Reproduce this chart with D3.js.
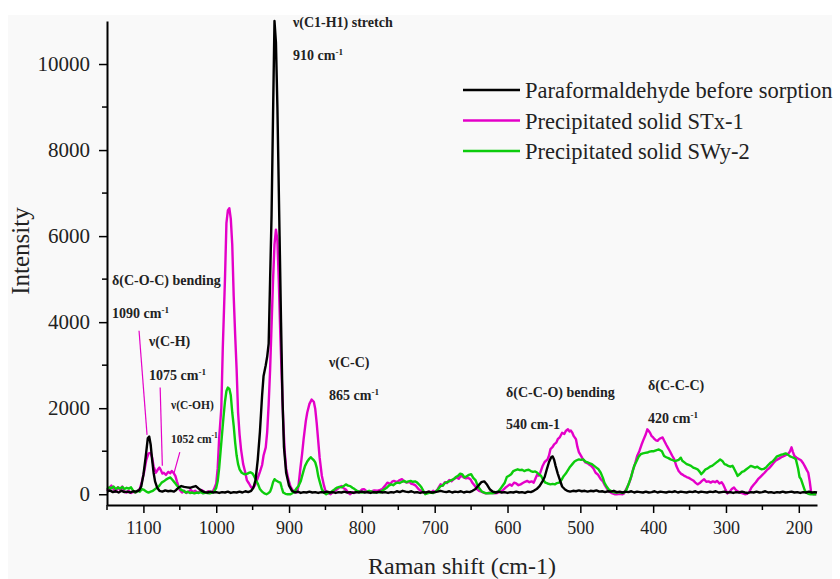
<!DOCTYPE html>
<html>
<head>
<meta charset="utf-8">
<script src="https://cdn.jsdelivr.net/npm/d3@7"></script>
<style>
  body { margin: 0; background: #ffffff; }
  text { font-family: "Liberation Serif", "DejaVu Serif", serif; }
</style>
</head>
<body>
<div class="canvas"></div>
<script>
// Raman shift (cm-1) / intensity pairs
const paraformaldehyde = [
  [1150,60],[1146,90],[1142,50],[1138,70],[1134,40],[1130,80],[1126,50],[1122,60],[1118,40],[1114,70],[1110,60],[1106,90],
  [1103,180],[1100,450],[1097,850],[1094,1300],[1092,1340],[1090,1150],[1088,800],[1086,500],[1084,300],[1081,150],[1078,80],
  [1074,60],[1070,90],[1066,70],[1062,80],[1058,60],[1055,100],[1052,150],[1048,190],[1044,170],[1040,160],[1036,150],[1032,170],
  [1028,190],[1024,130],[1020,80],[1016,50],[1012,40],[1008,60],[1004,40],[1000,50],[996,30],[992,50],[988,40],[984,60],[980,30],
  [976,50],[972,40],[968,60],[964,40],[960,70],[956,50],[952,80],[949,150],[946,330],[943,800],[940,1450],[937,2300],[935,2750],
  [932,3000],[930,3200],[928,3500],[926,5000],[924,6500],[922,8800],[920,11000],[918,10500],[916,9000],[913,6000],[911,4000],
  [909,2200],[907,1100],[904,500],[900,200],[896,80],[892,40],[888,60],[884,30],[880,50],[876,40],[872,60],[868,40],[864,50],
  [860,30],[856,50],[852,40],[848,60],[844,40],[840,50],[836,30],[832,50],[828,40],[824,60],[820,40],[816,50],[812,30],[808,50],
  [804,40],[800,60],[796,40],[792,50],[788,30],[784,50],[780,40],[776,60],[772,40],[768,50],[764,30],[760,50],[756,40],[752,70],
  [748,50],[744,80],[740,60],[736,50],[732,70],[728,40],[724,50],[720,30],[716,50],[712,40],[708,60],[704,40],[700,50],[696,60],
  [692,80],[688,60],[684,50],[680,70],[676,40],[672,60],[668,50],[664,70],[660,40],[656,60],[652,50],[648,80],[644,120],[640,200],
  [636,280],[632,300],[628,220],[624,110],[620,60],[616,40],[612,60],[608,40],[604,50],[600,30],[596,50],[592,40],[588,60],[584,40],
  [580,50],[576,30],[572,60],[568,50],[564,80],[560,120],[556,190],[552,300],[549,400],[546,580],[543,750],[540,860],[538,880],
  [536,800],[534,660],[531,480],[528,330],[525,180],[521,110],[518,80],[514,60],[510,80],[506,70],[502,90],[498,70],[494,80],
  [490,60],[486,80],[482,70],[478,90],[474,60],[470,70],[466,50],[462,70],[458,60],[454,80],[450,50],[446,60],[442,40],[438,60],
  [434,50],[430,70],[426,40],[422,60],[418,50],[414,40],[410,60],[406,40],[402,50],[398,70],[394,40],[390,60],[386,50],[382,40],
  [378,60],[374,50],[370,70],[366,40],[362,60],[358,50],[354,40],[350,60],[346,50],[342,70],[338,40],[334,60],[330,50],[326,40],
  [322,60],[318,50],[314,70],[310,40],[306,50],[302,60],[298,40],[294,50],[290,30],[286,50],[282,40],[278,60],[274,40],[270,30],
  [266,50],[262,40],[258,60],[254,40],[250,50],[246,70],[242,40],[238,50],[234,30],[230,50],[226,40],[222,60],[218,40],[214,50],
  [210,60],[206,40],[202,50],[198,30],[194,50],[190,40],[186,60],[182,40],[178,50],[175,40]
];

const solidSTx1 = [
  [1150,80],[1147,150],[1144,200],[1141,120],[1138,60],[1135,160],[1132,100],[1129,180],[1126,60],[1123,40],[1120,80],[1117,30],
  [1114,60],[1111,40],[1108,80],[1105,120],[1102,300],[1099,520],[1096,800],[1093,950],[1090,960],[1088,850],[1086,650],[1083,500],
  [1080,580],[1078,620],[1076,560],[1074,480],[1072,500],[1069,450],[1066,520],[1063,490],[1061,540],[1058,480],[1056,420],[1054,300],
  [1052,190],[1050,100],[1047,40],[1044,80],[1041,30],[1038,60],[1035,100],[1032,50],[1029,80],[1026,40],[1023,60],[1020,100],
  [1017,60],[1014,40],[1011,70],[1008,40],[1005,60],[1003,120],[1000,250],[998,600],[996,1300],[993,2000],[991,3400],[988,5000],
  [986,6300],[984,6600],[982,6650],[980,6400],[978,5800],[976,4600],[974,3700],[972,2900],[970,1900],[968,1400],[966,1050],[963,700],
  [960,500],[958,330],[955,250],[952,160],[950,150],[947,200],[944,330],[940,520],[937,680],[935,900],[932,1090],[930,1450],
  [928,2090],[926,2900],[925,3420],[922,4960],[920,5800],[918,6150],[916,5900],[914,4900],[912,3700],[910,2700],[908,1700],
  [906,1000],[904,600],[901,350],[898,180],[895,90],[892,60],[889,40],[887,200],[884.6,580],[882,950],[880,1280],[877,1700],
  [875,1900],[872,2100],[869,2200],[866,2150],[864,1980],[862,1650],[860,1250],[858,850],[855,430],[852,200],[850,80],[847,30],
  [843,0],[840,50],[837,80],[834,116],[831,160],[828,190],[825,140],[822,110],[819,40],[816,0],[813,50],[810,30],[807,80],[803,60],
  [800,110],[797,120],[793,60],[790,40],[786,70],[783,90],[779,80],[775,100],[772,120],[768,200],[765,270],[761,240],[758,300],
  [756,310],[752,280],[748,330],[745,350],[742,300],[738,270],[735,290],[732,240],[729,230],[726,200],[722,116],[718,70],[715,40],
  [712,30],[708,60],[705,40],[702,80],[699,50],[696,120],[692,230],[689,200],[686,280],[683,260],[680,330],[677,300],[674,350],
  [670,390],[667,360],[664,430],[661,400],[657,370],[654,380],[651,350],[648,260],[645,200],[642,120],[639,80],[636,60],[633,40],
  [630,20],[626,30],[622,40],[618,20],[614,30],[610,60],[606,100],[603,150],[600,190],[597,230],[594,200],[591,270],[588,250],
  [585,210],[582,230],[579,260],[576,290],[573,310],[570,280],[567,300],[564,270],[561,390],[559,465],[557,430],[555,500],[552,650],
  [549,750],[545,810],[543,900],[541,1050],[538,1100],[536,1160],[533,1200],[531,1280],[528,1330],[525,1430],[522,1400],[520,1470],
  [517,1510],[515,1460],[513,1480],[511,1430],[509,1350],[506,1280],[504,1100],[502,980],[499,890],[496,800],[493,740],[490,720],
  [487,680],[485,660],[482,600],[479,500],[476,460],[472,350],[469,300],[466,200],[463,116],[460,60],[456,20],[453,0],[450,0],
  [446,10],[442,0],[440,20],[437,120],[434,220],[431,350],[428,550],[425,700],[422,890],[419,1000],[416,1150],[413,1280],[410,1400],
  [408,1510],[406,1470],[404,1420],[402,1350],[400,1320],[398,1280],[396,1250],[394,1240],[392,1280],[390,1300],[387,1320],
  [385,1250],[382,1150],[380,1090],[377,1000],[374,900],[371,810],[368,650],[365,540],[362,480],[359,450],[357,426],[354,400],
  [351,380],[348,350],[345,320],[342,270],[339,230],[336,260],[333,310],[330,350],[327,290],[324,300],[321,270],[318,300],[315,280],
  [312,310],[309,250],[306,280],[304,230],[301,120],[298,20],[295,60],[292,120],[289,155],[286,90],[283,60],[280,40],[277,20],
  [274,0],[271,10],[268,50],[265,155],[262,220],[259,280],[256,350],[253,400],[250,450],[247,500],[244,560],[241,600],[238,660],
  [235,720],[232,780],[229,810],[226,840],[223,870],[220,890],[217,920],[214,950],[212,1000],[210,1090],[208,980],[206,890],
  [203,850],[200,820],[197,790],[194,720],[192,660],[189,560],[187,500],[185,300],[183,40],[180,0],[176,0]
];

const solidSWy2 = [
  [1150,120],[1147,160],[1144,140],[1141,180],[1138,120],[1135,160],[1132,130],[1129,170],[1126,120],[1123,150],[1120,130],
  [1117,160],[1114,80],[1111,40],[1108,80],[1105,60],[1102,120],[1099,100],[1096,60],[1093,40],[1090,60],[1087,80],[1084,120],
  [1081,150],[1078,200],[1075,270],[1072,300],[1069,340],[1066,370],[1063,390],[1060,330],[1057,270],[1054,200],[1051,160],
  [1048,100],[1045,80],[1042,40],[1039,60],[1036,30],[1033,40],[1030,20],[1027,40],[1024,30],[1021,50],[1018,20],[1015,40],
  [1012,30],[1009,20],[1006,40],[1003,60],[1000,150],[998,300],[996,600],[994,1000],[992,1400],[990,1800],[988,2150],[986,2400],
  [984,2480],[982,2450],[980,2300],[978,1900],[976,1590],[974,1200],[972,900],[970,700],[968,580],[965,500],[962,470],[960,465],
  [957,480],[955,500],[953,510],[950,480],[948,420],[946,350],[943,250],[940,120],[937,60],[934,20],[931,0],[928,30],[926,60],
  [924,150],[922,280],[920,350],[918,320],[916,300],[914,280],[912,270],[910,150],[908,40],[905,10],[902,0],[898,0],[895,30],
  [892,80],[889,150],[887,190],[884,300],[882,426],[880,550],[878,660],[875,760],[872,830],[870,860],[868,820],[866,790],[864,740],
  [862,620],[860,426],[858,300],[855,116],[852,40],[849,0],[846,30],[843,40],[840,80],[837,120],[834,155],[831,170],[828,160],
  [825,190],[822,230],[819,200],[816,190],[813,150],[810,120],[807,80],[803,60],[800,40],[797,50],[793,60],[790,80],[786,60],
  [783,40],[779,50],[775,40],[772,80],[769,116],[766,150],[763,200],[760,230],[757,210],[754,250],[751,270],[748,260],[745,290],
  [742,310],[739,280],[736,300],[733,310],[730,290],[727,300],[724,270],[721,220],[718,155],[715,60],[713,0],[710,20],[706,40],
  [702,30],[699,60],[696,100],[692,190],[689,200],[686,260],[683,280],[680,300],[677,330],[674,350],[671,400],[668,426],[665,480],
  [662,460],[659,390],[656,420],[653,450],[650,465],[647,380],[644,330],[641,200],[638,120],[635,60],[632,40],[629,20],[625,30],
  [621,20],[617,40],[613,60],[610,120],[607,190],[604,260],[601,400],[598,430],[595,465],[592,540],[589,560],[586,580],[583,560],
  [580,570],[577,540],[574,560],[571,570],[568,540],[565,520],[562,530],[559,500],[557,465],[554,430],[551,330],[548,270],[545,250],
  [541,230],[538,240],[535,230],[532,260],[529,270],[526,330],[523,420],[520,480],[517,560],[514,640],[511,700],[508,760],[505,790],
  [502,810],[499,800],[496,810],[493,760],[490,740],[487,720],[484,700],[481,660],[478,620],[475,580],[472,500],[469,380],[467,270],
  [464,180],[461,110],[458,77],[455,50],[452,40],[449,40],[446,50],[443,30],[440,40],[437,90],[435,180],[433,270],[430,420],
  [428,540],[426,660],[423,760],[420,870],[417,930],[414,950],[411,960],[408,970],[405,990],[402,1000],[399,1000],[396,1020],
  [393,1040],[391,1030],[388,1000],[385,890],[382,860],[379,840],[376,810],[373,790],[370,770],[368,780],[365,800],[362,850],
  [360,780],[357,740],[354,700],[351,680],[348,660],[345,620],[342,600],[339,580],[336,520],[334,465],[331,520],[328,580],
  [325,600],[322,640],[319,660],[316,700],[313,740],[310,780],[308,810],[305,775],[302,700],[299,680],[297,660],[294,640],
  [291,660],[289,600],[286,500],[284,426],[281,470],[278,520],[275,540],[272,580],[269,620],[266,660],[263,640],[260,620],
  [257,640],[254,600],[251,580],[248,590],[245,620],[242,680],[239,730],[236,760],[233,820],[230,880],[227,900],[224,920],
  [221,930],[218,950],[215,920],[212,880],[209,860],[206,840],[204,810],[201,600],[199,400],[197,350],[194,200],[192,100],
  [190,40],[187,10],[184,0],[180,0],[176,0]
];

const seriesNames = ["Paraformaldehyde before sorption", "Precipitated solid STx-1", "Precipitated solid SWy-2"];
const seriesColours = ["#000000", "#e400c8", "#0ccc0c"];

const xTicks = [1100, 1000, 900, 800, 700, 600, 500, 400, 300, 200];
const xMinorTicks = [1150, 1050, 950, 850, 750, 650, 550, 450, 350, 250];
const yTicks = [0, 2000, 4000, 6000, 8000, 10000];
const yMinorTicks = [1000, 3000, 5000, 7000, 9000];

// peak labels: assignment, band position text, pixel anchor of the two text lines
const peakLabels = [
  { name: "\u03bd(C1-H1) stretch", band: "910 cm", sup: true, x: 293, y1: 27, y2: 60, size: 14 },
  { name: "\u03b4(C-O-C) bending", band: "1090 cm", sup: true, x: 112, y1: 285, y2: 318, size: 14 },
  { name: "\u03bd(C-H)", band: "1075 cm", sup: true, x: 149, y1: 346, y2: 380, size: 14 },
  { name: "\u03bd(C-OH)", band: "1052 cm", sup: true, x: 171, y1: 409, y2: 443, size: 11.5 },
  { name: "\u03bd(C-C)", band: "865 cm", sup: true, x: 329, y1: 367, y2: 400, size: 14 },
  { name: "\u03b4(C-C-O) bending", band: "540 cm-1", sup: false, x: 506, y1: 397, y2: 429, size: 14 },
  { name: "\u03b4(C-C-C)", band: "420 cm", sup: true, x: 648, y1: 390, y2: 423, size: 14 }
];

// pointer lines: [shift at foot, intensity at foot, shift at top, intensity at top]
const pointers = [
  [1095, 1380, 1106, 3800],
  [1074, 660, 1077, 2480],
  [1058, 490, 1050, 980]
];

const width = 840, height = 579;
const svg = d3.select(".canvas")
  .append("svg")
  .attr("width", width)
  .attr("height", height);

svg.append("rect")
  .attr("x", 8).attr("y", 15)
  .attr("width", 824).attr("height", 564)
  .attr("fill", "#f9f9f9");

const x = d3.scaleLinear().domain([1150, 175]).range([107, 817]);
const y = d3.scaleLinear().domain([-250, 11000]).range([505, 21]);

const line = d3.line()
  .x(d => x(d[0]))
  .y(d => y(d[1]));

const plot = svg.append("g");
[[solidSTx1, 1], [solidSWy2, 2], [paraformaldehyde, 0]].forEach(([data, c]) => {
  plot.append("path")
    .datum(data)
    .attr("d", line)
    .attr("fill", "none")
    .attr("stroke", seriesColours[c])
    .attr("stroke-width", 2.4)
    .attr("stroke-linejoin", "round");
});

// axes
const xAxis = svg.append("g").attr("transform", `translate(0, ${y.range()[0]})`);
xAxis.call(d3.axisBottom(x).tickValues(xTicks).tickFormat(d3.format("d"))
  .tickSize(8).tickSizeOuter(0).tickPadding(8));
xAxis.append("g").selectAll("line")
  .data(xMinorTicks)
  .join("line")
  .attr("x1", d => x(d)).attr("x2", d => x(d))
  .attr("y1", 0).attr("y2", 5)
  .attr("stroke", "#000").attr("stroke-width", 1.5);
xAxis.selectAll("text").attr("font-size", 18).attr("fill", "#222");

const yAxis = svg.append("g").attr("transform", `translate(${x.range()[0]}, 0)`);
yAxis.call(d3.axisLeft(y).tickValues(yTicks).tickFormat(d3.format("d"))
  .tickSize(8).tickSizeOuter(0).tickPadding(9));
yAxis.append("g").selectAll("line")
  .data(yMinorTicks)
  .join("line")
  .attr("y1", d => y(d)).attr("y2", d => y(d))
  .attr("x1", 0).attr("x2", -5)
  .attr("stroke", "#000").attr("stroke-width", 1.5);
yAxis.selectAll("text").attr("font-size", 21).attr("fill", "#222");

[xAxis, yAxis].forEach(a => {
  a.select(".domain").attr("stroke-width", 2);
  a.selectAll(".tick line").attr("stroke-width", 1.5);
});

// axis titles
svg.append("text")
  .attr("x", 462).attr("y", 574)
  .attr("text-anchor", "middle")
  .attr("font-size", 24)
  .attr("fill", "#222")
  .text("Raman shift (cm-1)");

svg.append("text")
  .attr("transform", "translate(29, 251) rotate(-90)")
  .attr("text-anchor", "middle")
  .attr("font-size", 25)
  .attr("fill", "#222")
  .text("Intensity");

// legend
const legend = svg.append("g");
seriesNames.forEach((name, i) => {
  const ly = 90 + i * 30.5;
  legend.append("line")
    .attr("x1", 463).attr("x2", 520)
    .attr("y1", ly).attr("y2", ly)
    .attr("stroke", seriesColours[i])
    .attr("stroke-width", 2.4);
  legend.append("text")
    .attr("x", 525).attr("y", ly + 8)
    .attr("font-size", 22.5)
    .attr("fill", "#222")
    .text(name);
});

// peak labels
const notes = svg.append("g").attr("font-weight", "bold").attr("fill", "#222");
peakLabels.forEach(p => {
  notes.append("text")
    .attr("x", p.x).attr("y", p.y1)
    .attr("font-size", p.size)
    .text(p.name);
  const t = notes.append("text")
    .attr("x", p.x).attr("y", p.y2)
    .attr("font-size", p.size)
    .text(p.band);
  if (p.sup) {
    t.append("tspan")
      .attr("dy", -5)
      .attr("font-size", p.size * 0.65)
      .text("-1");
  }
});

svg.append("g").selectAll("line")
  .data(pointers)
  .join("line")
  .attr("x1", d => x(d[0])).attr("y1", d => y(d[1]))
  .attr("x2", d => x(d[2])).attr("y2", d => y(d[3]))
  .attr("stroke", seriesColours[1])
  .attr("stroke-width", 1.2);
</script>
</body>
</html>
